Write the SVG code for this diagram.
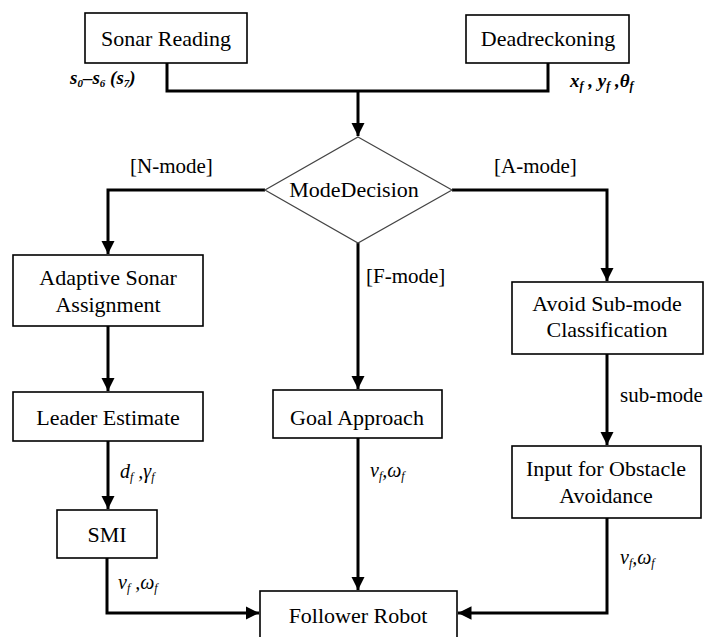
<svg xmlns="http://www.w3.org/2000/svg" width="709" height="637" viewBox="0 0 709 637">
<style>
.box{fill:#fff;stroke:#000;stroke-width:1.6}
.dia{fill:#fff;stroke:#444;stroke-width:1.2}
.nt{font-family:"Liberation Serif","Times New Roman",serif;font-size:22px;fill:#000;text-anchor:middle}
.lb{font-family:"Liberation Serif","Times New Roman",serif;font-size:21px;fill:#000}
.m{font-family:"Liberation Serif","Times New Roman",serif;font-size:20px;font-style:italic;fill:#000}
.mb{font-family:"Liberation Serif","Times New Roman",serif;font-size:19px;font-style:italic;font-weight:bold;fill:#000}
.c{fill:none;stroke:#000;stroke-width:3}
</style>
<defs>
<marker id="ah" viewBox="0 0 10 10" refX="10" refY="5" markerWidth="4.5" markerHeight="4.5" markerUnits="strokeWidth" orient="auto">
<path d="M0,0 L10,5 L0,10 z" fill="#000"/>
</marker>
</defs>
<rect width="709" height="637" fill="#fff"/>
<g id="connectors">
<path class="c" d="M167,63 V91 H358"/>
<path class="c" d="M548,63 V91 H358"/>
<path class="c" d="M358,91 V136" marker-end="url(#ah)"/>
<path class="c" d="M265,190 H108 V254" marker-end="url(#ah)"/>
<path class="c" d="M452,190 H607 V281" marker-end="url(#ah)"/>
<path class="c" d="M358,243 V389" marker-end="url(#ah)"/>
<path class="c" d="M108,326 V391" marker-end="url(#ah)"/>
<path class="c" d="M108,441 V509" marker-end="url(#ah)"/>
<path class="c" d="M107,558 V613 H259" marker-end="url(#ah)"/>
<path class="c" d="M358,438 V590" marker-end="url(#ah)"/>
<path class="c" d="M607,354 V445" marker-end="url(#ah)"/>
<path class="c" d="M607,518 V613 H458" marker-end="url(#ah)"/>
</g>
<g id="labels">
<text class="mb" x="70" y="84" font-size="17">s<tspan font-size="11" dy="3">0</tspan><tspan dy="-3">–s</tspan><tspan font-size="11" dy="3">6</tspan><tspan dy="-3"> (s</tspan><tspan font-size="11" dy="3">7</tspan><tspan dy="-3">)</tspan></text>
<text class="mb" x="570" y="87">x<tspan font-size="12" dy="3">f</tspan><tspan dy="-3"> , y</tspan><tspan font-size="12" dy="3">f</tspan><tspan dy="-3"> ,θ</tspan><tspan font-size="12" dy="3">f</tspan></text>
<text class="lb" x="130" y="173">[N-mode]</text>
<text class="lb" x="494" y="173">[A-mode]</text>
<text class="lb" x="366" y="283">[F-mode]</text>
<text class="lb" x="620" y="402">sub-mode</text>
<text class="m" x="120" y="478">d<tspan font-size="12" dy="3">f</tspan><tspan dy="-3"> ,γ</tspan><tspan font-size="12" dy="3">f</tspan></text>
<text class="m" x="118" y="589">v<tspan font-size="12" dy="3">f</tspan><tspan dy="-3"> ,ω</tspan><tspan font-size="12" dy="3">f</tspan></text>
<text class="m" x="370" y="477">v<tspan font-size="12" dy="3">f</tspan><tspan dy="-3">,ω</tspan><tspan font-size="12" dy="3">f</tspan></text>
<text class="m" x="620" y="564">v<tspan font-size="12" dy="3">f</tspan><tspan dy="-3">,ω</tspan><tspan font-size="12" dy="3">f</tspan></text>
</g>
<g id="sonar"><rect class="box" x="85" y="13" width="162" height="50"/><text class="nt" x="166" y="46">Sonar Reading</text></g>
<g id="dead"><rect class="box" x="466" y="15" width="163" height="48"/><text class="nt" x="548" y="46">Deadreckoning</text></g>
<g id="decision"><polygon class="dia" points="358,137 452,190 358,243 265,190"/><text class="nt" x="354" y="197">ModeDecision</text></g>
<g id="adaptive"><rect class="box" x="13" y="255" width="190" height="71"/><text class="nt" x="108" y="285">Adaptive Sonar</text><text class="nt" x="108" y="312">Assignment</text></g>
<g id="avoid"><rect class="box" x="512" y="282" width="191" height="72"/><text class="nt" x="607" y="311">Avoid Sub-mode</text><text class="nt" x="607" y="337">Classification</text></g>
<g id="leader"><rect class="box" x="13" y="392" width="190" height="49"/><text class="nt" x="108" y="425">Leader Estimate</text></g>
<g id="goal"><rect class="box" x="273" y="390" width="169" height="48"/><text class="nt" x="357" y="425">Goal Approach</text></g>
<g id="smi"><rect class="box" x="57" y="510" width="100" height="48"/><text class="nt" x="107" y="542">SMI</text></g>
<g id="input"><rect class="box" x="512" y="446" width="189" height="72"/><text class="nt" x="606" y="476">Input for Obstacle</text><text class="nt" x="606" y="503">Avoidance</text></g>
<g id="follower"><rect class="box" x="260" y="591" width="197" height="60"/><text class="nt" x="358" y="623">Follower Robot</text></g>
</svg>
